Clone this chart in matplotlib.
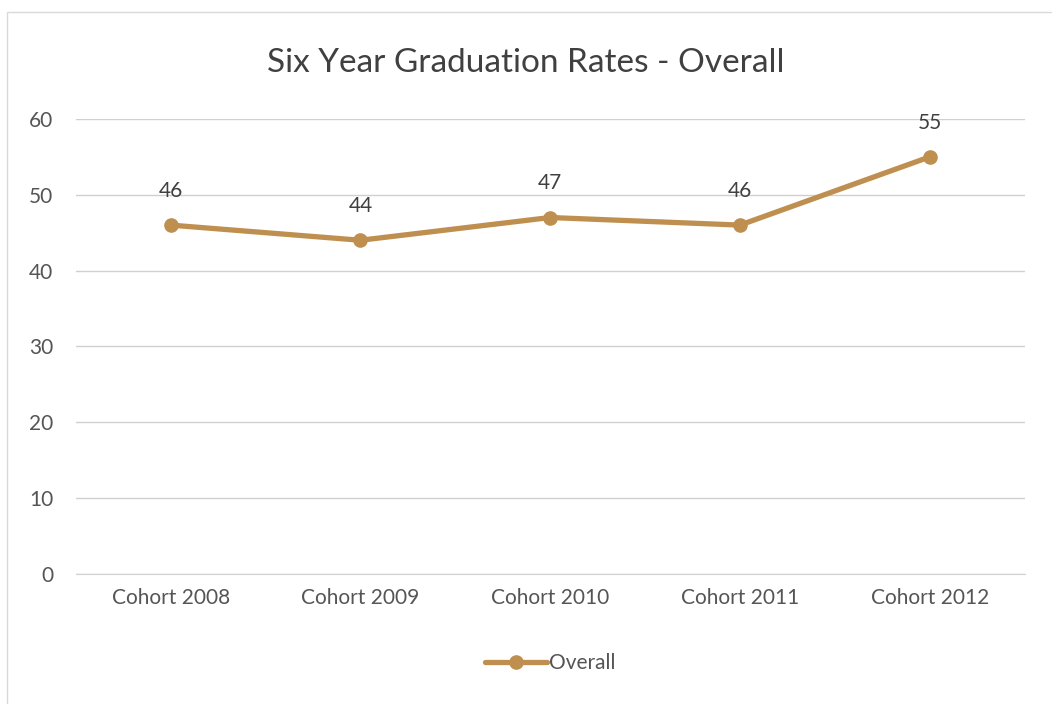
import matplotlib.pyplot as plt
from matplotlib.patches import Rectangle

cohorts = ['Cohort 2008', 'Cohort 2009', 'Cohort 2010', 'Cohort 2011', 'Cohort 2012']
overall = [46, 44, 47, 46, 55]
yticks = [0, 10, 20, 30, 40, 50, 60]

plt.rcParams['font.family'] = ['Lato', 'DejaVu Sans']
color = '#BF8F4F'

fig = plt.figure(figsize=(10.52, 7.04), dpi=100)
ax = fig.add_axes([0.072, 0.185, 0.902, 0.646])

x = list(range(len(cohorts)))
ax.plot(x, overall, color=color, linewidth=3.8, marker='o', markersize=9.5, label='Overall', solid_capstyle='round')
for xi, v in zip(x, overall):
    ax.annotate(str(v), (xi, v), xytext=(0, 24.5), textcoords='offset points',
                ha='center', va='center', fontsize=15, color='#404040')

ax.set_xlim(-0.5, 4.5)
ax.set_ylim(0, 60)
ax.set_yticks(yticks)
ax.set_xticks(x)
ax.set_xticklabels(cohorts)
ax.tick_params(axis='both', length=0, labelsize=15, labelcolor='#555555')
ax.tick_params(axis='x', pad=10)
ax.tick_params(axis='y', pad=16)
ax.grid(axis='y', color='#D0D0D0', linewidth=1)
ax.set_axisbelow(True)
for s in ['top', 'right', 'left']:
    ax.spines[s].set_visible(False)
ax.spines['bottom'].set_color('#D0D0D0')

fig.text(0.5, 0.91, 'Six Year Graduation Rates - Overall', ha='center', va='center',
         fontsize=24, color='#404040')
ax.legend(loc='center', bbox_to_anchor=(0.5, -0.196), frameon=False, fontsize=15,
          labelcolor='#555555', handlelength=3, handletextpad=0.1)

fig.patches.append(Rectangle((0.007, -0.01), 1.0, 0.993, transform=fig.transFigure,
                             fill=False, edgecolor='#D9D9D9', linewidth=1))
fig.savefig('out.png', dpi=100)
